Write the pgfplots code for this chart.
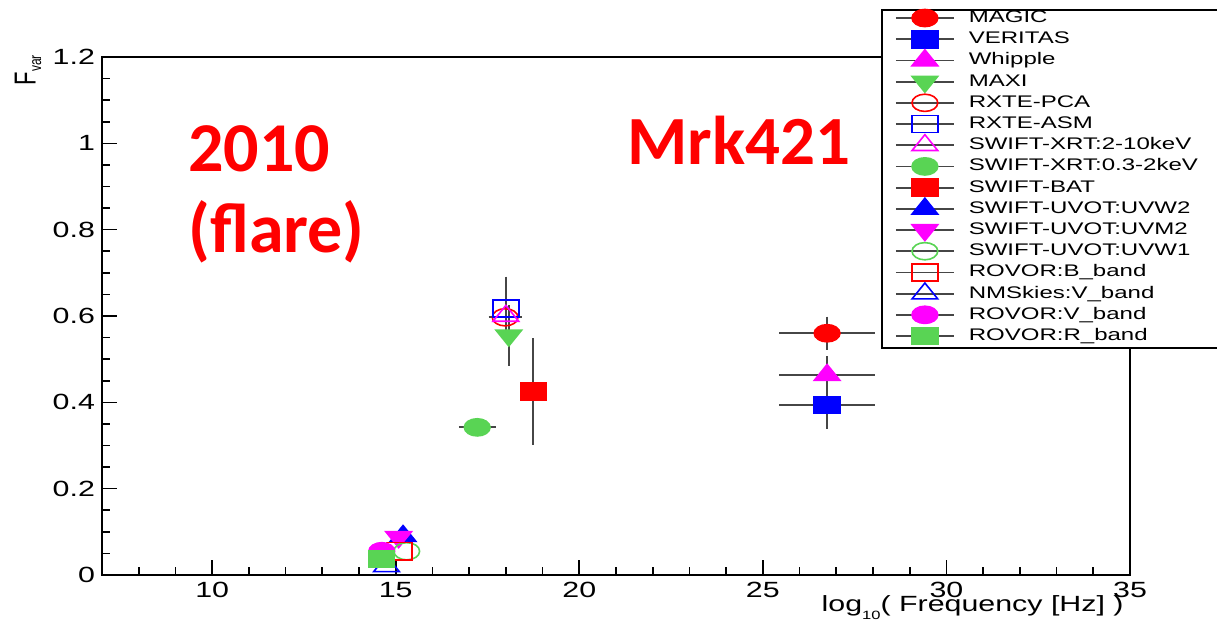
\documentclass[border=0pt]{standalone}
\usepackage{pgfplots}
\pgfplotsset{compat=1.18}
\usepackage{fontspec}
\setmainfont{Liberation Sans}
\newfontfamily\stretchfont[FakeStretch=1.38]{Liberation Sans}
\newfontfamily\legfont[FakeStretch=1.43]{Liberation Sans}
\newfontfamily\calfont{Carlito}
\definecolor{rootgreen}{RGB}{89,212,84}
\definecolor{rootmagenta}{RGB}{255,0,255}
\definecolor{rootred}{RGB}{255,0,0}
\definecolor{rootblue}{RGB}{0,0,255}
\definecolor{ebgray}{RGB}{70,70,70}
\pgfplotsset{
  mkc/.style={only marks, mark size=4.3pt, mark options={xscale=1.5, solid, line width=0.8pt}},
  mkt/.style={only marks, mark size=5.3pt, mark options={xscale=1.4, solid, line width=0.8pt}},
  mkd/.style={only marks, mark size=5.3pt, mark options={xscale=1.4, rotate=180, solid, line width=0.8pt}},
  ebx/.style={error bars/.cd, x dir=both, x explicit, error bar style={ebgray, line width=1.1pt}, error mark options={ebgray, mark size=1.8pt, line width=1.1pt}},
  eby/.style={error bars/.cd, y dir=both, y explicit, error bar style={ebgray, line width=1.1pt}, error mark options={ebgray, mark size=1.8pt, line width=1.1pt}},
  ebxy/.style={error bars/.cd, x dir=both, x explicit, y dir=both, y explicit, error bar style={ebgray, line width=1.1pt}, error mark options={ebgray, mark size=1.8pt, line width=1.1pt}},
}
\begin{document}
\begin{tikzpicture}
\begin{axis}[
  set layers,
  clip=false,
  at={(51pt,24.5pt)}, anchor=south west,
  scale only axis, width=514pt, height=259pt,
  xmin=7, xmax=35, ymin=0, ymax=1.2,
  xtick={10,15,20,25,30,35},
  ytick={0,0.2,0.4,0.6,0.8,1,1.2},
  minor xtick={7,8,...,35},
  minor ytick={0,0.05,0.1,0.15,0.2,0.25,0.3,0.35,0.4,0.45,0.5,0.55,0.6,0.65,0.7,0.75,0.8,0.85,0.9,0.95,1,1.05,1.1,1.15,1.2},
  tick pos=left,
  tick align=inside,
  major tick length=7.5pt, minor tick length=4pt,
  axis line style={line width=1pt},
  every tick/.style={black, line width=0.8pt},
  /pgf/number format/assume math mode=true,
  ticklabel style={font=\stretchfont\fontsize{11}{13}\selectfont},
  xlabel={log{\fontsize{6}{6}\selectfont\raisebox{-4pt}{10}}( Frequency [Hz] )},
  xlabel style={at={(axis description cs:1,0)}, anchor=base east, yshift=-18.5pt, xshift=-3pt, inner sep=0pt, font=\stretchfont\fontsize{11}{13}\selectfont},
  ylabel={F{\fontsize{6}{6}\selectfont\raisebox{-2pt}{var}}},
  every axis y label/.style={at={(axis description cs:-0.072,1.004)}, xscale=1.38, rotate=90, anchor=east, inner sep=0pt, font=\fontsize{11}{13}\selectfont},
  legend style={draw=none, fill=none, at={(axis description cs:0.7714,1.0957)}, anchor=north west,
    inner sep=0pt, outer sep=0pt, row sep=0pt, column sep=7pt,
    nodes={scale=1, inner xsep=0pt, inner ysep=1.55pt, text height=6pt, text depth=1.5pt, anchor=west,
      font=\legfont\fontsize{8.4}{10}\selectfont}},
  legend cell align=left,
  legend image code/.code={\draw[ebgray, line width=0.9pt] (0pt,0pt) -- (29pt,0pt); \draw[#1] plot coordinates {(14.5pt,0pt)};},
]
\begin{pgfonlayer}{pre main}
\fill[white, draw=black, line width=0.8pt] (axis description cs:0.7588,1.0907) rectangle (axis description cs:1.3,0.4382);
\end{pgfonlayer}

% MAGIC
\addplot[mkc, mark=*, rootred, ebxy] coordinates {(26.75,0.560) +- (1.2,0.030)};
\addlegendentry{MAGIC}
% VERITAS
\addplot[mkc, mark=square*, rootblue, ebxy] coordinates {(26.75,0.394) +- (1.2,0.047)};
\addlegendentry{VERITAS}
% Whipple
\addplot[mkt, mark=triangle*, rootmagenta, ebxy] coordinates {(26.75,0.463) +- (1.2,0.035)};
\addlegendentry{Whipple}
% MAXI
\addplot[mkd, mark=triangle*, rootgreen, eby] coordinates {(18.08,0.555) +- (0,0.062)};
\addlegendentry{MAXI}
% RXTE-PCA
\addplot[mkc, mark=o, rootred, ebx] coordinates {(17.98,0.597) +- (0.35,0)};
\addlegendentry{RXTE-PCA}
% RXTE-ASM
\addplot[mkc, mark=square, rootblue, eby] coordinates {(18.0,0.617) +- (0,0.066)};
\addlegendentry{RXTE-ASM}
% SWIFT-XRT 2-10 keV
\addplot[mkt, mark=triangle, rootmagenta] coordinates {(18.0,0.600)};
\addlegendentry{SWIFT-XRT:2-10keV}
% SWIFT-XRT 0.3-2 keV
\addplot[mkc, mark=*, rootgreen, ebx] coordinates {(17.22,0.342) +- (0.4,0)};
\addlegendentry{SWIFT-XRT:0.3-2keV}
% SWIFT-BAT
\addplot[mkc, mark=square*, rootred, eby] coordinates {(18.75,0.425) +- (0,0.115)};
\addlegendentry{SWIFT-BAT}
% UVW2
\addplot[mkt, mark=triangle*, rootblue] coordinates {(15.2,0.090)};
\addlegendentry{SWIFT-UVOT:UVW2}
% UVM2
\addplot[mkd, mark=triangle*, rootmagenta] coordinates {(15.08,0.088)};
\addlegendentry{SWIFT-UVOT:UVM2}
% UVW1
\addplot[mkc, mark=o, rootgreen] coordinates {(15.3,0.055)};
\addlegendentry{SWIFT-UVOT:UVW1}
% ROVOR B
\addplot[mkc, mark=square, rootred] coordinates {(15.1,0.055)};
\addlegendentry{ROVOR:B\_band}
% NMSkies V
\addplot[mkt, mark=triangle, rootblue] coordinates {(14.75,0.020)};
\addlegendentry{NMSkies:V\_band}
% ROVOR V
\addplot[mkc, mark=*, rootmagenta] coordinates {(14.62,0.055)};
\addlegendentry{ROVOR:V\_band}
% ROVOR R
\addplot[mkc, mark=square*, rootgreen] coordinates {(14.62,0.037)};
\addlegendentry{ROVOR:R\_band}
\end{axis}
\node[anchor=base west, text=red, font=\calfont\bfseries\fontsize{35}{41}\selectfont, inner sep=0pt] at (94pt,226pt) {2010};
\node[anchor=base west, text=red, font=\calfont\bfseries\fontsize{35}{41}\selectfont, inner sep=0pt] at (94pt,185.5pt) {(flare)};
\node[anchor=base west, text=red, font=\calfont\bfseries\fontsize{34.5}{41}\selectfont, inner sep=0pt] at (313.5pt,229.5pt) {Mrk421};
\pgfresetboundingbox
\path[use as bounding box] (0,0) rectangle (608.5pt,312pt);
\end{tikzpicture}
\end{document}
